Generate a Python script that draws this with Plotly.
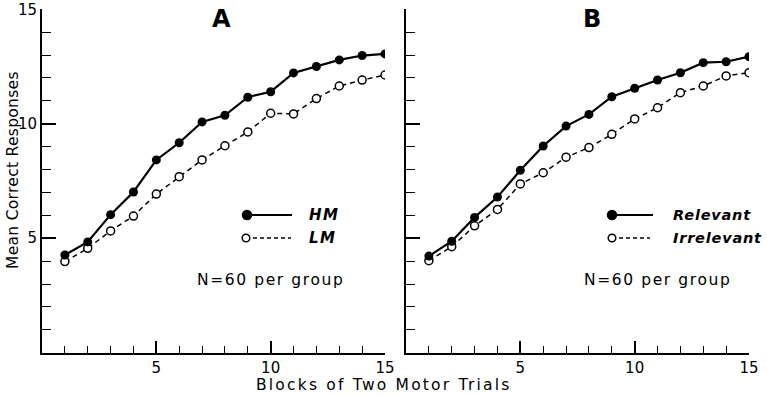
import plotly.graph_objects as go

# ---- data ----
blocks = list(range(1, 16))
hm = [4.27, 4.84, 6.03, 7.02, 8.42, 9.17, 10.08, 10.37, 11.16, 11.40, 12.22, 12.50, 12.79, 12.98, 13.05]
lm = [3.98, 4.56, 5.32, 5.97, 6.93, 7.69, 8.42, 9.04, 9.64, 10.46, 10.43, 11.10, 11.65, 11.91, 12.13]
relevant = [4.22, 4.87, 5.91, 6.80, 7.97, 9.03, 9.90, 10.41, 11.18, 11.55, 11.91, 12.23, 12.67, 12.71, 12.93]
irrelevant = [4.02, 4.63, 5.54, 6.26, 7.37, 7.86, 8.54, 8.96, 9.54, 10.21, 10.70, 11.36, 11.65, 12.09, 12.23]
x_ticks = [5, 10, 15]
y_ticks = [5, 10, 15]

W, H = 767, 396
FONT = "DejaVu Sans"


def px(x):
    return x / W


def py(y):
    return 1 - y / H


fig = go.Figure()


def add_pair(xa, ya, filled, opened):
    fig.add_trace(go.Scatter(
        x=blocks, y=opened, xaxis=xa, yaxis=ya, mode="lines+markers",
        line=dict(color="black", width=1.5, dash="5px,4px"),
        marker=dict(symbol="circle", size=8, color="white",
                    line=dict(color="black", width=1.5)),
        showlegend=False, hoverinfo="skip"))
    fig.add_trace(go.Scatter(
        x=blocks, y=filled, xaxis=xa, yaxis=ya, mode="lines+markers",
        line=dict(color="black", width=2.2),
        marker=dict(symbol="circle", size=9, color="black"),
        showlegend=False, hoverinfo="skip"))


add_pair("x", "y", hm, lm)
add_pair("x2", "y2", relevant, irrelevant)

ax_common = dict(
    range=[0, 15], showgrid=False, zeroline=False, showline=True,
    automargin=False,
    linecolor="black", linewidth=2, ticks="inside", ticklen=12,
    tickwidth=1.5, tickcolor="black",
    minor=dict(ticks="inside", ticklen=7, dtick=1, tick0=0,
               tickwidth=1.3, tickcolor="black", showgrid=False),
    tickfont=dict(family=FONT, size=15, color="black"),
)

ydom = [py(352.7), py(9.3)]
fig.update_layout(
    template="none",
    width=W, height=H, margin=dict(l=0, r=0, t=0, b=0, pad=0),
    paper_bgcolor="white", plot_bgcolor="white",
    xaxis=dict(domain=[px(42), px(385)], anchor="y", tickvals=x_ticks, **ax_common),
    yaxis=dict(domain=ydom, anchor="x", tickvals=y_ticks, **ax_common),
    xaxis2=dict(domain=[px(406), px(749)], anchor="y2", tickvals=x_ticks, **ax_common),
    yaxis2=dict(domain=ydom, anchor="x2", tickvals=y_ticks, showticklabels=False, **ax_common),
)
fig.update_yaxes(ticklen=14, minor_ticklen=9)

ann = []


def text(x, y, s, size=15, xanchor="center", italic=False, bold=False, angle=0, spacing=0):
    if spacing:
        s = '<span style="letter-spacing:%.1fpx">%s</span>' % (spacing, s)
    ann.append(dict(x=px(x), y=py(y), xref="paper", yref="paper", text=s,
                    showarrow=False, xanchor=xanchor, yanchor="middle",
                    textangle=angle,
                    font=dict(family=FONT, size=size, color="black",
                              style="italic" if italic else "normal",
                              weight="bold" if bold else "normal")))


text(222, 19, "A", size=24, bold=True)
text(592, 19, "B", size=24, bold=True)
text(383, 385, "Blocks of Two Motor Trials", size=15.5, spacing=2.2)
text(13, 170, "Mean Correct Responses", size=15.5, angle=-90, spacing=0.3)
text(195, 280, "N=60 per group", size=15.5, xanchor="left", spacing=1.6)
text(582, 280, "N=60 per group", size=15.5, xanchor="left", spacing=1.6)
text(307, 215, "HM", size=15, xanchor="left", italic=True, bold=True, spacing=1.5)
text(307, 238, "LM", size=15, xanchor="left", italic=True, bold=True, spacing=1.5)
text(671, 215, "Relevant", size=14.5, xanchor="left", italic=True, bold=True, spacing=0.8)
text(671, 238, "Irrelevant", size=14.5, xanchor="left", italic=True, bold=True, spacing=0.8)

shapes = []


def key(x0, x1, y, filled):
    shapes.append(dict(type="line", xref="paper", yref="paper",
                       x0=px(x0), x1=px(x1), y0=py(y), y1=py(y),
                       line=dict(color="black", width=2.2 if filled else 1.5,
                                 dash="solid" if filled else "4px,3px")))
    r = 4.5 if filled else 3.8
    shapes.append(dict(type="circle", xref="paper", yref="paper",
                       x0=px(x0 - r), x1=px(x0 + r), y0=py(y + r), y1=py(y - r),
                       fillcolor="black" if filled else "white",
                       line=dict(color="black", width=1.5)))


key(247, 292, 215, True)
key(246, 291, 238, False)
key(612, 653, 215, True)
key(612, 650, 238, False)

fig.update_layout(annotations=ann, shapes=shapes)
# remove the default 8px page margin so the 767x396 figure fills the window
fig.write_html("out.html", config={"displayModeBar": False},
               post_script="document.body.style.margin='0';")
